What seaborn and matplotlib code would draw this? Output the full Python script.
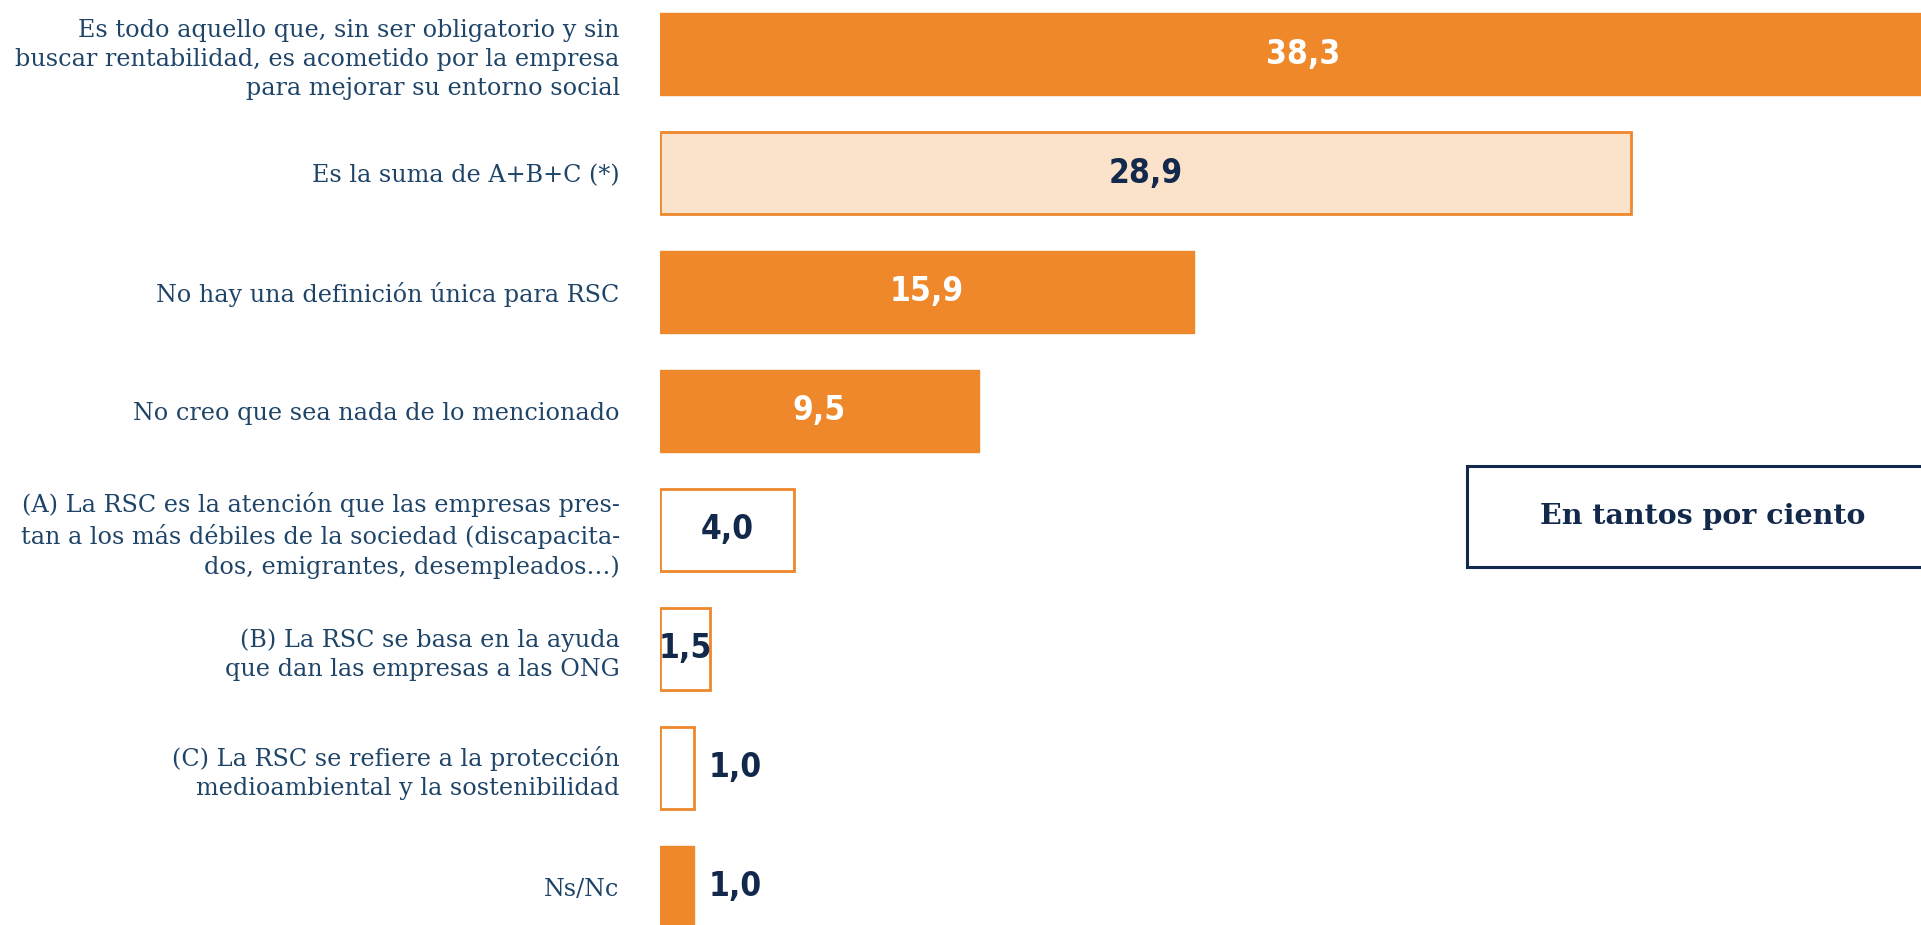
import matplotlib
matplotlib.use("Agg")
import matplotlib.pyplot as plt
import seaborn as sns
from matplotlib.patches import Rectangle

# data
categories = [
    "Es todo aquello que, sin ser obligatorio y sin\nbuscar rentabilidad, es acometido por la empresa\npara mejorar su entorno social",
    "Es la suma de A+B+C (*)",
    "No hay una definición única para RSC",
    "No creo que sea nada de lo mencionado",
    "(A) La RSC es la atención que las empresas pres-\ntan a los más débiles de la sociedad (discapacita-\ndos, emigrantes, desempleados…)",
    "(B) La RSC se basa en la ayuda\nque dan las empresas a las ONG",
    "(C) La RSC se refiere a la protección\nmedioambiental y la sostenibilidad",
    "Ns/Nc",
]
values = [38.3, 28.9, 15.9, 9.5, 4.0, 1.5, 1.0, 1.0]
value_labels = ["38,3", "28,9", "15,9", "9,5", "4,0", "1,5", "1,0", "1,0"]
# bar style: filled, light, outline
styles = ["filled", "light", "filled", "filled", "outline", "outline", "outline", "filled"]

ORANGE = "#EE882B"
LIGHT = "#FBE2CB"
NAVY = "#13294B"
LABEL = "#1E4468"

W, H = 1921, 925
sns.set_style("white")
fig = plt.figure(figsize=(W / 100, H / 100), dpi=100)

left_px = 660
px_per_unit = 33.6
ax = fig.add_axes([left_px / W, 0, (W - left_px) / W, 1])

sns.barplot(x=values, y=categories, orient="h", width=0.69, color=ORANGE,
            ax=ax, saturation=1)

for patch, st in zip(ax.patches, styles):
    if st == "filled":
        patch.set_facecolor(ORANGE)
        patch.set_edgecolor(ORANGE)
    elif st == "light":
        patch.set_facecolor(LIGHT)
        patch.set_edgecolor(ORANGE)
        patch.set_linewidth(2)
    else:
        patch.set_facecolor("white")
        patch.set_edgecolor(ORANGE)
        patch.set_linewidth(2)

ax.set_xlim(0, (W - left_px) / px_per_unit)
ax.set_ylim(7.32, -0.454)
for s in ax.spines.values():
    s.set_visible(False)
ax.set_xticks([])
ax.set_xlabel("")
ax.set_ylabel("")
ax.tick_params(axis="y", length=0, pad=29)
for lbl in ax.get_yticklabels():
    lbl.set_fontfamily("DejaVu Serif")
    lbl.set_fontsize(17.2)
    lbl.set_color(LABEL)
    lbl.set_linespacing(1.33)

num_font = dict(family="DejaVu Sans", fontweight="bold", fontsize=24,
                fontstretch="condensed")
for i, (v, txt, st) in enumerate(zip(values, value_labels, styles)):
    color = "white" if st == "filled" else NAVY
    if v >= 1.4:
        ax.text(v / 2, i, txt, ha="center", va="center", color=color, **num_font)
    else:
        ax.text(v + 0.45, i, txt, ha="left", va="center", color=NAVY, **num_font)

# legend-like box
fig.patches.append(Rectangle((1467 / W, 1 - 567 / H), 600 / W, 101 / H,
                             transform=fig.transFigure, facecolor="white",
                             edgecolor=NAVY, linewidth=2.2))
fig.text(1703 / W, 1 - 517 / H, "En tantos por ciento", ha="center", va="center",
         fontsize=20.5, fontweight="bold", family="DejaVu Serif", color=NAVY)

fig.savefig("out.png", dpi=100)
